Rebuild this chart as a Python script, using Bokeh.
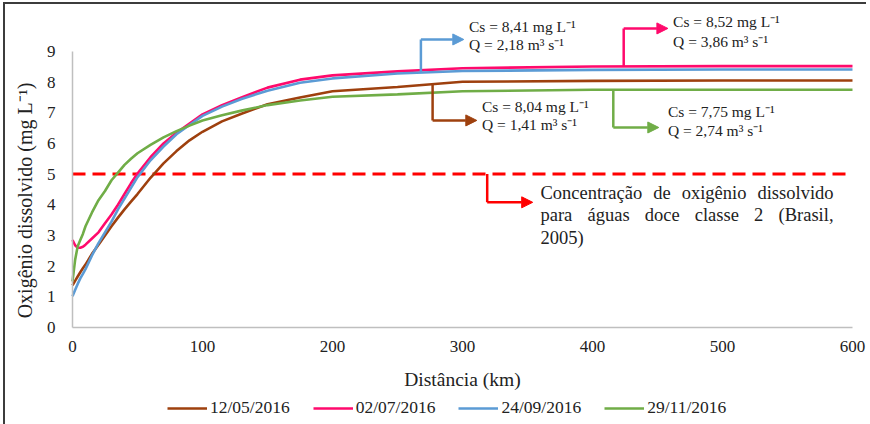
import math
from bokeh.plotting import figure
from bokeh.models import (Label, Arrow, NormalHead, Legend, LegendItem, FixedTicker, Range1d)
from bokeh.core.properties import value
from bokeh.embed import file_html
from bokeh.resources import INLINE

# ---------------- data ----------------
distance_km = [0, 2, 4, 6, 8, 10, 15, 20, 25, 30, 35, 40, 45, 50, 60, 70, 80, 90, 100,
               115, 130, 150, 175, 200, 250, 300, 400, 500, 600]
od_12_05_2016 = [1.37, 1.52, 1.66, 1.80, 1.93, 2.05, 2.40, 2.70, 3.00, 3.30, 3.58, 3.85, 4.10, 4.35,
                 4.88, 5.35, 5.75, 6.10, 6.38, 6.72, 6.97, 7.28, 7.50, 7.70, 7.84, 8.01, 8.04, 8.05, 8.05]
od_02_07_2016 = [2.85, 2.68, 2.60, 2.60, 2.63, 2.70, 2.90, 3.10, 3.40, 3.68, 4.00, 4.35, 4.70, 5.02,
                 5.55, 6.00, 6.35, 6.65, 6.95, 7.25, 7.50, 7.82, 8.08, 8.22, 8.35, 8.45, 8.51, 8.52, 8.52]
od_24_09_2016 = [1.02, 1.22, 1.42, 1.60, 1.75, 1.90, 2.35, 2.75, 3.10, 3.45, 3.85, 4.20, 4.55, 4.90,
                 5.45, 5.90, 6.30, 6.60, 6.90, 7.20, 7.45, 7.72, 7.98, 8.12, 8.28, 8.36, 8.40, 8.41, 8.41]
od_29_11_2016 = [1.50, 2.20, 2.65, 2.85, 3.05, 3.30, 3.75, 4.15, 4.45, 4.80, 5.05, 5.30, 5.50, 5.68,
                 5.95, 6.20, 6.40, 6.58, 6.75, 6.92, 7.07, 7.25, 7.40, 7.52, 7.60, 7.70, 7.75, 7.75, 7.75]
series_labels = ["12/05/2016", "02/07/2016", "24/09/2016", "29/11/2016"]
limite_classe2 = 5
x_ticks = [0, 100, 200, 300, 400, 500, 600]
y_ticks = [0, 1, 2, 3, 4, 5, 6, 7, 8, 9]

colors = ["#9E400E", "#FF0A6C", "#5B9BD5", "#70AD47"]
SERIF = "Liberation Serif"
TXT = "#222222"

p = figure(frame_width=861, frame_height=416, output_backend="svg", toolbar_location=None,
           x_range=Range1d(-51.54, 610.77), y_range=Range1d(-3.165, 10.4),
           min_border_left=0, min_border_right=0, min_border_top=4, min_border_bottom=0)
p.styles = {"margin-left": "3px", "margin-top": "2px",
            "border-left": "2px solid #3c3c3c", "border-top": "2px solid #3c3c3c"}
p.outline_line_color = None
p.background_fill_color = "white"
p.border_fill_color = "white"
p.xgrid.grid_line_color = None
p.ygrid.grid_line_color = None

for ax in (p.xaxis[0], p.yaxis[0]):
    ax.axis_line_color = "#BFBFBF"
    ax.axis_line_width = 1.5
    ax.major_tick_line_color = None
    ax.minor_tick_line_color = None
    ax.major_label_text_font = SERIF
    ax.major_label_text_font_size = "17px"
    ax.major_label_text_color = TXT
    ax.axis_label_text_font = SERIF
    ax.axis_label_text_font_size = "19.5px"
    ax.axis_label_text_font_style = "normal"
    ax.axis_label_text_color = TXT

p.xaxis.ticker = FixedTicker(ticks=x_ticks)
p.yaxis.ticker = FixedTicker(ticks=y_ticks)
p.xaxis.bounds = (0, 600)
p.yaxis.bounds = (0, 9)
p.xaxis.fixed_location = 0
p.yaxis.fixed_location = 0
p.xaxis.axis_label = "Distância (km)"
p.xaxis.major_label_standoff = 8
p.xaxis.axis_label_standoff = 13
p.yaxis.major_label_standoff = 11

# y-axis title
p.add_layout(Label(x=-36.9, y=4.14, text="Oxigênio dissolvido (mg L⁻¹)", angle=math.pi / 2,
                   text_font=SERIF, text_font_size="20px", text_color=TXT,
                   text_align="center", text_baseline="middle"))

# threshold line (0 to 600 km)
p.segment(x0=[x_ticks[0]], y0=[limite_classe2], x1=[x_ticks[-1]], y1=[limite_classe2],
          line_color="#FF0000", line_width=3, line_dash="13 7")

renderers = []
for ys, c in zip([od_12_05_2016, od_02_07_2016, od_24_09_2016, od_29_11_2016], colors):
    r = p.line(distance_km, ys, line_color=c, line_width=2.6)
    renderers.append(r)

legend = Legend(items=[LegendItem(label=l, renderers=[r]) for l, r in zip(series_labels, renderers)],
                orientation="horizontal", location=(162, 6))
legend.label_text_font = SERIF
legend.label_text_font_size = "17.5px"
legend.label_text_color = TXT
legend.glyph_width = 40
legend.glyph_height = 18
legend.label_standoff = 3
legend.spacing = 23
legend.padding = 0
legend.margin = 0
legend.border_line_color = None
legend.background_fill_alpha = 0
p.add_layout(legend, "center")

# annotations: (color, x_vert, y_from, y_to, x_tip, text_x, [(text, y)])
annotations = [
    (colors[2], 268, 8.32, 9.39, 301, 305, [("Cs = 8,41 mg L⁻¹", 9.81), ("Q = 2,18 m³ s⁻¹", 9.23)]),
    (colors[1], 424, 8.52, 9.75, 458, 462, [("Cs = 8,52 mg L⁻¹", 9.98), ("Q = 3,86 m³ s⁻¹", 9.33)]),
    (colors[0], 277, 7.95, 6.75, 311, 315, [("Cs = 8,04 mg L⁻¹", 7.21), ("Q = 1,41 m³ s⁻¹", 6.62)]),
    (colors[3], 416, 7.75, 6.52, 451, 458, [("Cs = 7,75 mg L⁻¹", 7.04), ("Q = 2,74 m³ s⁻¹", 6.42)]),
]
for c, xv, y0, y1, xt, tx, lines in annotations:
    p.segment(x0=[xv], y0=[y0], x1=[xv], y1=[y1], line_color=c, line_width=2.5)
    p.add_layout(Arrow(end=NormalHead(size=11, fill_color=c, line_color=c),
                       x_start=xv, y_start=y1, x_end=xt, y_end=y1,
                       line_color=c, line_width=2.5))
    for t, ty in lines:
        p.add_layout(Label(x=tx, y=ty, text=t, text_font=SERIF, text_font_size="15.5px",
                           text_color=TXT, text_baseline="middle", text_align="left"))

# threshold annotation (justified paragraph, word by word)
p.segment(x0=[319], y0=[limite_classe2], x1=[319], y1=[4.08], line_color="#FF0000", line_width=2.5)
p.add_layout(Arrow(end=NormalHead(size=11, fill_color="#FF0000", line_color="#FF0000"),
                   x_start=319, y_start=4.08, x_end=354, y_end=4.08,
                   line_color="#FF0000", line_width=2.5))
left_words = ["Concentração", "de", "oxigênio",
              "para", "águas", "doce", "classe", "2",
              "2005)"]
left_x = [360.0, 446.7, 468.6,
          360.0, 396.2, 440.2, 478.6, 524.2,
          360.0]
left_y = [4.40] * 3 + [3.68] * 5 + [2.93]
right_words = ["dissolvido", "(Brasil,"]
right_x = [585.4, 585.4]
right_y = [4.40, 3.68]
p.text(x=left_x, y=left_y, text=left_words, text_font=value(SERIF), text_font_size="18.5px",
       text_color=TXT, text_baseline="middle", text_align="left")
p.text(x=right_x, y=right_y, text=right_words, text_font=value(SERIF), text_font_size="18.5px",
       text_color=TXT, text_baseline="middle", text_align="right")

open("out.html", "w").write(file_html(p, INLINE))
